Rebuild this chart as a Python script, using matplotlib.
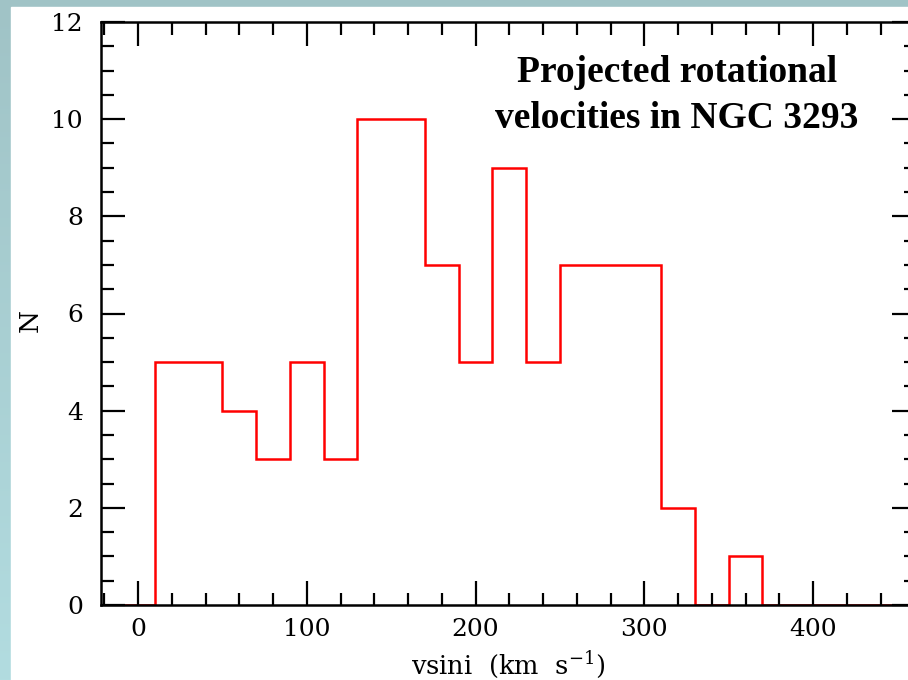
import numpy as np
import matplotlib
matplotlib.use("Agg")
import matplotlib.pyplot as plt
from matplotlib.patches import Rectangle
from matplotlib.ticker import MultipleLocator

# Data
bin_edges = [-10, 10, 30, 50, 70, 90, 110, 130, 150, 170, 190, 210, 230,
             250, 270, 290, 310, 330, 350, 370, 390, 410, 430, 450]
counts = [0, 5, 5, 4, 3, 5, 3, 10, 10, 7, 5, 9, 5, 7, 7, 7, 2, 0, 1, 0, 0, 0, 0]
title_lines = ["Projected rotational", "velocities in NGC 3293"]
xlabel = "vsini  (km  s$^{-1}$)"
ylabel = "N"

plt.rcParams["font.family"] = ["DejaVu Serif"]
plt.rcParams["mathtext.fontset"] = "dejavuserif"
plt.rcParams["xtick.labelsize"] = 18
plt.rcParams["ytick.labelsize"] = 18

W, H = 908, 680
fig = plt.figure(figsize=(W / 100, H / 100), dpi=100)

# background gradient (slide-like frame)
bg = fig.add_axes([0, 0, 1, 1])
grad = np.linspace(0, 1, 256)[:, None]
top_c = np.array([160, 195, 198]) / 255
bot_c = np.array([178, 220, 224]) / 255
img = top_c[None, None, :] * (1 - grad[:, :, None]) + bot_c[None, None, :] * grad[:, :, None]
bg.imshow(img, aspect="auto", extent=[0, 1, 0, 1], origin="upper")
bg.add_patch(Rectangle((11 / W, 0), 1, 1 - 7 / H, color="white", zorder=3))
bg.set_xlim(0, 1)
bg.set_ylim(0, 1)
bg.axis("off")

left, right = 101 / W, 916 / W
bottom, top = 1 - 605 / H, 1 - 22 / H
ax = fig.add_axes([left, bottom, right - left, top - bottom])
ax.set_facecolor("none")

ax.stairs(counts, bin_edges, color="red", linewidth=1.8, baseline=None)

ax.set_xlim(-22, 461)
ax.set_ylim(0, 12)

ax.xaxis.set_major_locator(MultipleLocator(100))
ax.xaxis.set_minor_locator(MultipleLocator(20))
ax.yaxis.set_major_locator(MultipleLocator(2))
ax.yaxis.set_minor_locator(MultipleLocator(0.5))

ax.tick_params(which="both", direction="in", top=True, right=True,
               width=1.6, colors="black")
ax.tick_params(which="major", length=17)
ax.tick_params(axis="x", which="major", pad=9)
ax.tick_params(axis="y", which="major", pad=13)
ax.tick_params(which="minor", length=9)
for s in ax.spines.values():
    s.set_linewidth(1.8)

ax.set_xlabel(xlabel, fontsize=18.5)
ax.xaxis.set_label_coords((508 - 101) / (916 - 101), (605 - 665) / (605 - 22))
ax.xaxis.label.set_va("center")
ax.set_ylabel(ylabel, fontsize=19)
ax.yaxis.set_label_coords((30 - 101) / (916 - 101), (605 - 320) / (605 - 22))
ax.yaxis.label.set_va("center")

fig.text(677 / W, 1 - 72 / H, title_lines[0], ha="center", va="center",
         fontsize=27, fontweight="bold", family="Liberation Serif")
fig.text(677 / W, 1 - 118 / H, title_lines[1], ha="center", va="center",
         fontsize=27, fontweight="bold", family="Liberation Serif")

fig.savefig("out.png", dpi=100)
